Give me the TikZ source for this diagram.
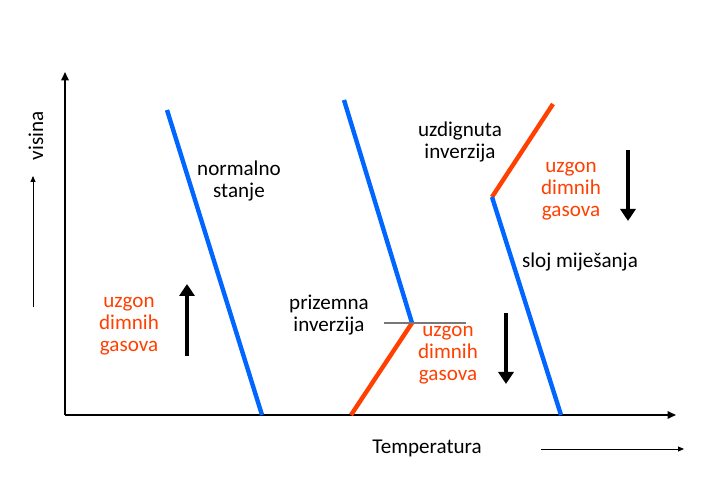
\documentclass[tikz,border=0pt]{standalone}
\usepackage{fontspec}
\setmainfont{Carlito}
\usepackage{xcolor}
\usepackage{tikz}
\usetikzlibrary{arrows.meta}
\definecolor{tblue}{RGB}{0,102,255}
\definecolor{tred}{RGB}{255,64,0}
\definecolor{tgray}{RGB}{120,120,120}
\tikzset{
  lbl/.style={align=center, inner sep=0pt, font=\fontsize{12}{12.5}\selectfont},
  gas/.style={lbl, text=tred},
  axis/.style={line width=1.1pt, -{Triangle[width=1.5mm,length=1.7mm]}},
  hint/.style={line width=0.5pt, -{Triangle[width=1mm,length=1.2mm]}},
  flow/.style={line width=2.3pt, -{Triangle[width=3mm,length=2.4mm]}},
  blueline/.style={tblue, line width=2.5pt},
  redline/.style={tred, line width=2.5pt}
}
\begin{document}
\begin{tikzpicture}[x=0.02cm, y=-0.02cm]
  \useasboundingbox (0,0) rectangle (725,493);
  % axes
  \coordinate (o) at (65,415);
  \coordinate (ytip) at (65,72);
  \coordinate (xtip) at (676,415);
  \draw[axis] (o) -- (ytip);
  \draw[axis] (o) -- (xtip);
  % hint arrows and axis titles
  \coordinate (hy0) at (33,307);
  \coordinate (hy1) at (33,176);
  \draw[hint] (hy0) -- (hy1);
  \node[lbl, rotate=90] (visina) at (36,136) {visina};
  \coordinate (hx0) at (541,449);
  \coordinate (hx1) at (684,449);
  \draw[hint] (hx0) -- (hx1);
  \node[lbl] (temp) at (427,448) {Temperatura};
  % normalno stanje
  \coordinate (a1) at (167,110);
  \coordinate (a2) at (262,415);
  \draw[blueline] (a1) -- (a2);
  \node[lbl] (normal) at (239,181) {normalno\\stanje};
  \node[gas] (gasA) at (129,326) {uzgon\\dimnih\\gasova};
  \coordinate (upA0) at (187,356);
  \coordinate (upA1) at (187,284);
  \draw[flow] (upA0) -- (upA1);
  % prizemna inverzija
  \coordinate (b1) at (344,100);
  \coordinate (b2) at (412,323);
  \coordinate (b3) at (351,415);
  \draw[blueline] (b1) -- (b2);
  \draw[redline] (b2) -- (b3);
  \coordinate (g0) at (384,323);
  \coordinate (g1) at (466,323);
  \draw[tgray, line width=0.6pt] (g0) -- (g1);
  \node[lbl] (prizemna) at (329,315) {prizemna\\inverzija};
  \node[gas] (gasB) at (448,355) {uzgon\\dimnih\\gasova};
  \coordinate (dnB0) at (506,313);
  \coordinate (dnB1) at (506,384);
  \draw[flow] (dnB0) -- (dnB1);
  % uzdignuta inverzija
  \coordinate (c1) at (553,104);
  \coordinate (c2) at (492,197);
  \coordinate (c3) at (561,415);
  \draw[redline] (c1) -- (c2);
  \draw[blueline] (c2) -- (c3);
  \node[lbl] (uzdignuta) at (460,142) {uzdignuta\\inverzija};
  \node[gas] (gasC) at (571,191) {uzgon\\dimnih\\gasova};
  \coordinate (dnC0) at (628,150);
  \coordinate (dnC1) at (628,221);
  \draw[flow] (dnC0) -- (dnC1);
  \node[lbl] (sloj) at (580,262) {sloj miješanja};
\end{tikzpicture}
\end{document}
